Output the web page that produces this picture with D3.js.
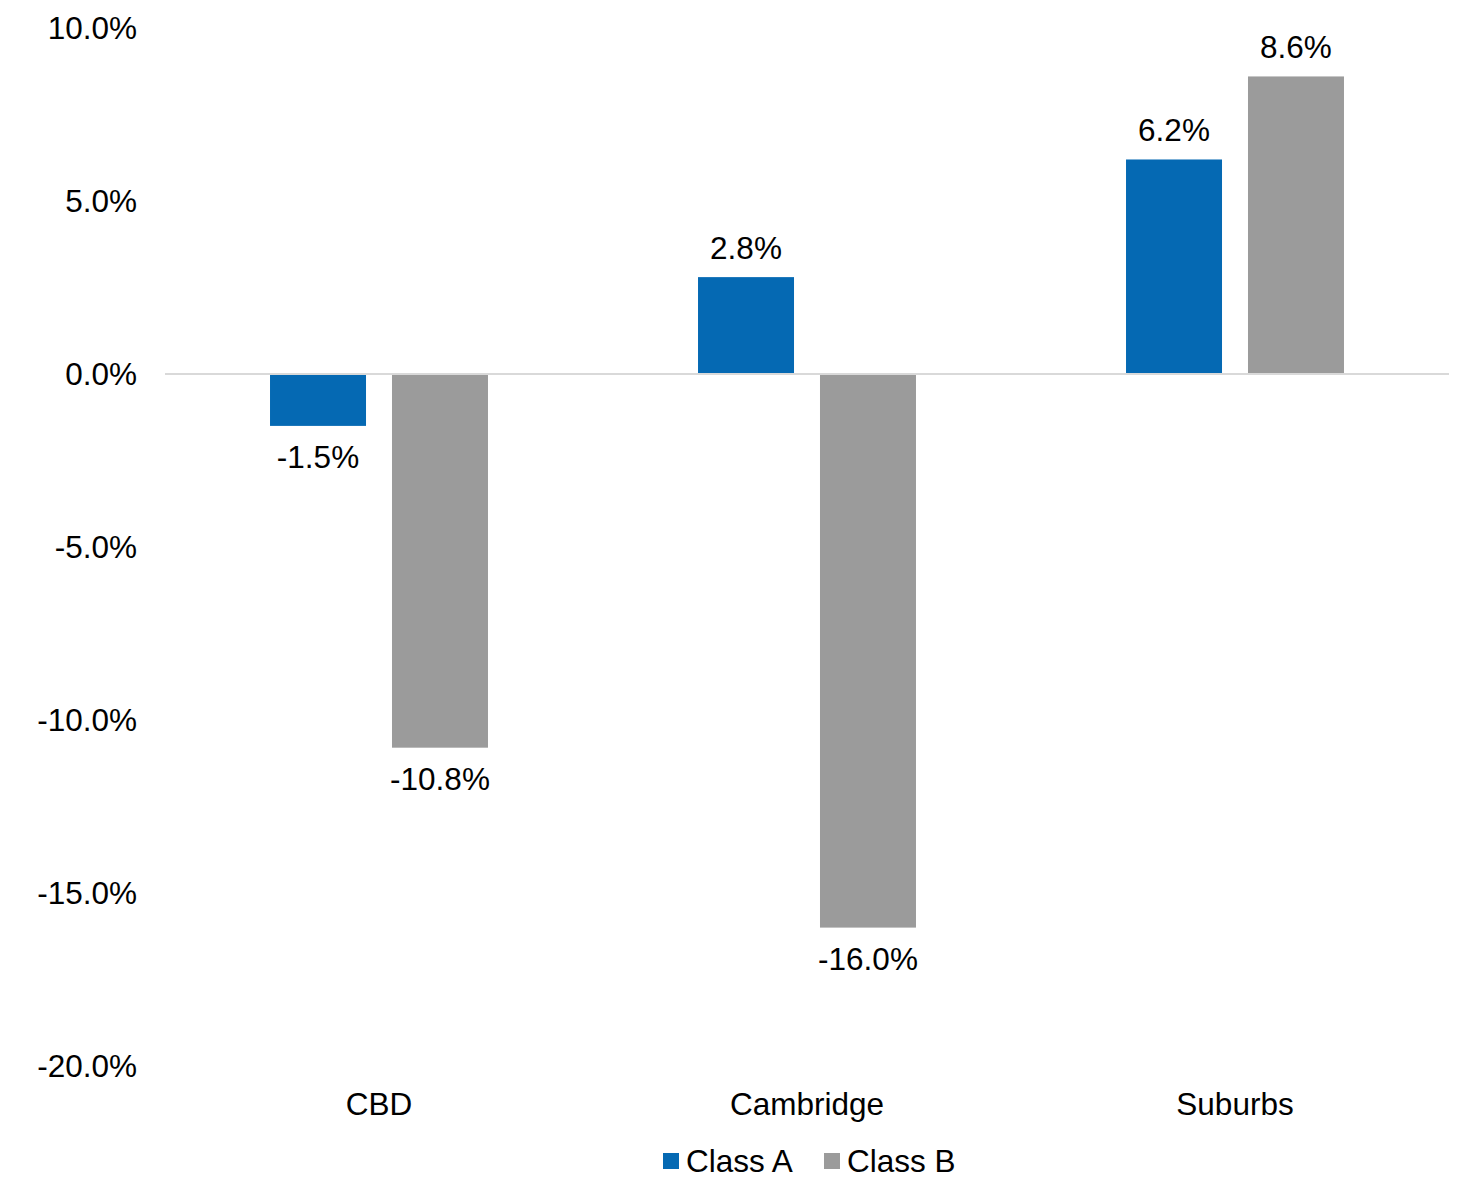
<!DOCTYPE html>
<html>
<head>
<meta charset="utf-8">
<script src="https://cdn.jsdelivr.net/npm/d3@7"></script>
<style>
  html, body { margin: 0; padding: 0; background: #ffffff; }
  svg { display: block; font-family: "Liberation Sans", Arial, Helvetica, sans-serif; }
</style>
</head>
<body>
<svg id="chart" width="1470" height="1181"></svg>
<script>
// Year-over-year change by submarket and building class
const categories = ["CBD", "Cambridge", "Suburbs"];
const seriesNames = ["Class A", "Class B"];
const classA = [-1.5, 2.8, 6.2];
const classB = [-10.8, -16.0, 8.6];
const yTicks = [10, 5, 0, -5, -10, -15, -20];
const seriesColors = ["#0569b3", "#9b9b9b"];

const seriesValues = [classA, classB];
const rows = categories.map((c, i) => ({
  category: c,
  values: seriesNames.map((s, j) => ({ series: s, value: seriesValues[j][i] }))
}));

const svg = d3.select("#chart");
const fontSize = 31.5;

const plotLeft = 165, plotRight = 1449;
const y = d3.scaleLinear().domain([-20, 10]).range([1066, 28]);

const x0 = d3.scaleBand().domain(categories).range([plotLeft, plotRight]).padding(0);
const x1 = d3.scaleBand().domain(seriesNames)
  .range([0, x0.bandwidth()])
  .paddingInner(0.213)
  .paddingOuter(0.861);
const color = d3.scaleOrdinal().domain(seriesNames).range(seriesColors);

// Percent with one decimal and a plain hyphen for negatives
const fmt = v => (v < 0 ? "-" : "") + Math.abs(v).toFixed(1) + "%";

// Y axis labels (no axis line, no ticks)
const yAxis = d3.axisLeft(y).tickValues(yTicks).tickFormat(fmt).tickSize(0).tickPadding(0);
const yg = svg.append("g").attr("transform", "translate(137,0)").call(yAxis);
yg.select(".domain").remove();
yg.selectAll("text")
  .attr("font-size", fontSize)
  .attr("font-family", null)
  .attr("fill", "#000")
  .attr("dy", "0.32em");

// Bars
const groups = svg.append("g").selectAll("g")
  .data(rows).join("g")
  .attr("transform", d => `translate(${x0(d.category)},0)`);

groups.selectAll("rect")
  .data(d => d.values).join("rect")
  .attr("x", d => x1(d.series))
  .attr("width", x1.bandwidth())
  .attr("y", d => y(Math.max(0, d.value)))
  .attr("height", d => Math.abs(y(d.value) - y(0)))
  .attr("fill", d => color(d.series));

// Value labels
groups.selectAll("text")
  .data(d => d.values).join("text")
  .attr("x", d => x1(d.series) + x1.bandwidth() / 2)
  .attr("y", d => d.value >= 0 ? y(d.value) - 29.5 : y(d.value) + 31)
  .attr("dy", "0.35em")
  .attr("text-anchor", "middle")
  .attr("font-size", fontSize)
  .attr("fill", "#000")
  .text(d => fmt(d.value));

// Zero baseline
svg.append("line")
  .attr("x1", plotLeft).attr("x2", plotRight)
  .attr("y1", y(0)).attr("y2", y(0))
  .attr("stroke", "#d9d9d9").attr("stroke-width", 2);

// Category axis labels
const xAxis = d3.axisBottom(x0).tickSize(0).tickPadding(0);
const xg = svg.append("g").attr("transform", "translate(0,1104)").call(xAxis);
xg.select(".domain").remove();
xg.selectAll("text")
  .attr("font-size", fontSize)
  .attr("font-family", null)
  .attr("fill", "#000")
  .attr("dy", "0.35em");

// Legend
const legendX = [663, 824];
const legend = svg.append("g").selectAll("g")
  .data(seriesNames).join("g")
  .attr("transform", (d, i) => `translate(${legendX[i]},1161)`);
legend.append("rect")
  .attr("x", 0).attr("y", -8).attr("width", 16).attr("height", 16)
  .attr("fill", d => color(d));
legend.append("text")
  .attr("x", 23).attr("y", 0).attr("dy", "0.35em")
  .attr("font-size", fontSize)
  .attr("fill", "#000")
  .text(d => d);
</script>
</body>
</html>
